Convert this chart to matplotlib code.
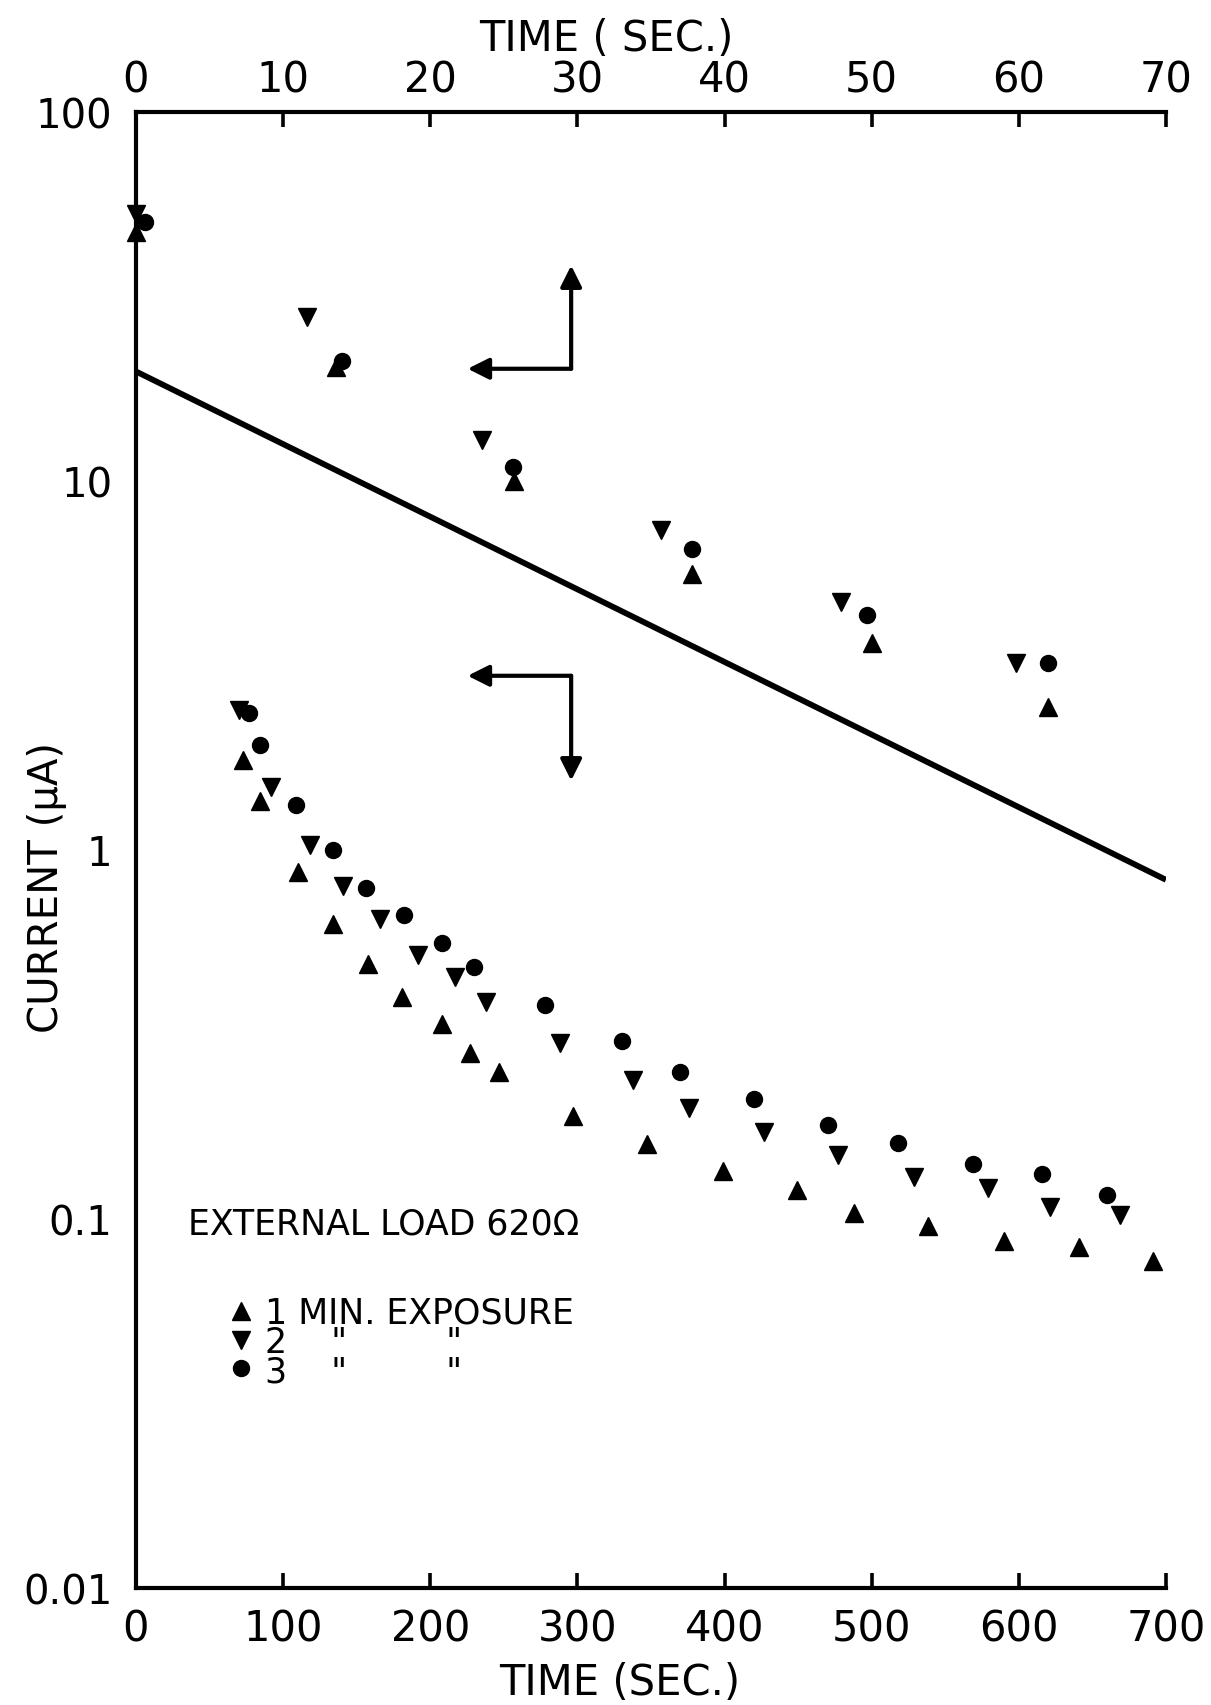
import numpy as np
import matplotlib
matplotlib.use("Agg")
import matplotlib.pyplot as plt
from matplotlib.ticker import NullLocator

plt.rcParams["font.family"] = ["DejaVu Sans"]

# lower set: bottom time axis (0-700 s)
T_1MIN = [73, 84, 110, 134, 158, 181, 208, 227, 247, 297, 347, 399, 449, 488, 538, 590, 641, 691]
I_1MIN = [1.75, 1.36, 0.87, 0.63, 0.49, 0.40, 0.338, 0.282, 0.25, 0.19, 0.16, 0.135, 0.12,
          0.104, 0.096, 0.087, 0.084, 0.077]
T_2MIN = [70, 92, 118, 141, 166, 192, 217, 238, 288, 338, 376, 427, 477, 529, 579, 621, 669]
I_2MIN = [2.39, 1.48, 1.03, 0.80, 0.65, 0.52, 0.452, 0.388, 0.30, 0.238, 0.20, 0.172, 0.149,
          0.130, 0.121, 0.108, 0.1025]
T_3MIN = [77, 84, 109, 134, 156, 182, 208, 230, 278, 330, 370, 420, 470, 518, 569, 616, 660]
I_3MIN = [2.35, 1.92, 1.32, 1.0, 0.79, 0.667, 0.558, 0.481, 0.38, 0.304, 0.25, 0.211, 0.18,
          0.161, 0.141, 0.132, 0.116]

# upper set: top time axis (0-70 s)
TT_1MIN = [0, 13.6, 25.7, 37.8, 50.0, 62.0]
II_1MIN = [47.4, 20.3, 10.0, 5.6, 3.64, 2.44]
TT_2MIN = [0, 11.6, 23.5, 35.7, 47.9, 59.8]
II_2MIN = [52.8, 27.8, 12.9, 7.35, 4.7, 3.21]
TT_3MIN = [0.6, 14.0, 25.6, 37.8, 49.7, 62.0]
II_3MIN = [50.4, 21.2, 10.9, 6.53, 4.33, 3.21]

# straight reference line
LINE_T = [0, 700]
LINE_I = [19.8, 0.83]

Y_TICKS = [0.01, 0.1, 1, 10, 100]
Y_LABELS = ["0.01", "0.1", "1", "10", "100"]
X_TICKS = [0, 100, 200, 300, 400, 500, 600, 700]
X2_TICKS = [0, 10, 20, 30, 40, 50, 60, 70]

LEGEND_ROWS = "1 MIN. EXPOSURE\n2    \"         \"\n3    \"         \""

fig = plt.figure(figsize=(12.11, 17.06), dpi=100)
fig.patch.set_facecolor("white")
ax = fig.add_axes([0.1123, 0.0686, 0.8505, 0.8652])
ax.set_yscale("log")
ax.set_xlim(0, 700)
ax.set_ylim(0.01, 100)

ax2 = ax.twiny()
ax2.set_xlim(0, 70)

mk = dict(color="black", linestyle="none", clip_on=False, zorder=3)

h1, = ax.plot(T_1MIN, I_1MIN, marker="^", markersize=13, **mk)
h2, = ax.plot(T_2MIN, I_2MIN, marker="v", markersize=13, **mk)
h3, = ax.plot(T_3MIN, I_3MIN, marker="o", markersize=11.5, **mk)

ax2.plot(TT_1MIN, II_1MIN, marker="^", markersize=13, **mk)
ax2.plot(TT_2MIN, II_2MIN, marker="v", markersize=13, **mk)
ax2.plot(TT_3MIN, II_3MIN, marker="o", markersize=11.5, **mk)

ax.plot(LINE_T, LINE_I, color="black", lw=4.2, solid_capstyle="butt", zorder=2)

# arrows telling which time axis belongs to which set
arrow = dict(arrowstyle="-|>", color="black", lw=3, mutation_scale=32, shrinkA=0, shrinkB=0)
ax.annotate("", xy=(0.322, 0.826), xytext=(0.4225, 0.826), xycoords="axes fraction", arrowprops=arrow)
ax.annotate("", xy=(0.4225, 0.896), xytext=(0.4225, 0.826), xycoords="axes fraction", arrowprops=arrow)
ax.annotate("", xy=(0.322, 0.618), xytext=(0.4225, 0.618), xycoords="axes fraction", arrowprops=arrow)
ax.annotate("", xy=(0.4225, 0.547), xytext=(0.4225, 0.618), xycoords="axes fraction", arrowprops=arrow)

# axes styling
ax.set_yticks(Y_TICKS)
ax.set_yticklabels(Y_LABELS)
ax.yaxis.set_minor_locator(NullLocator())
ax.tick_params(axis="y", length=0, pad=17, labelsize=29)
ax.set_xticks(X_TICKS)
ax.tick_params(axis="x", direction="in", length=11, width=2.6, pad=14, labelsize=30)
ax2.set_xticks(X2_TICKS)
ax2.tick_params(axis="x", direction="in", length=11, width=2.6, pad=8, labelsize=30)

for s in ["right", "top"]:
    ax.spines[s].set_visible(False)
for s in ["right", "left", "bottom"]:
    ax2.spines[s].set_visible(False)
ax.spines["left"].set_linewidth(3)
ax.spines["bottom"].set_linewidth(3)
ax2.spines["top"].set_linewidth(3)

ax.text(0.470, -0.0637, "TIME (SEC.)", transform=ax.transAxes, ha="center", va="center", fontsize=30)
ax.text(0.457, 1.050, "TIME ( SEC.)", transform=ax.transAxes, ha="center", va="center", fontsize=30)
ax.text(-0.0864, 0.475, "CURRENT (\u03bcA)", transform=ax.transAxes, ha="center", va="center",
        rotation=90, fontsize=29)

ax.text(0.0505, 0.2466, "EXTERNAL LOAD 620\u03a9", transform=ax.transAxes, ha="left", va="center",
        fontsize=25)

# legend: markers from the legend, row text as one block
ax.legend([h1, h2, h3], ["", "", ""], loc="upper left", bbox_to_anchor=(0.0923, 0.1943),
          frameon=False, fontsize=18, handlelength=0.8, handletextpad=0, labelspacing=0.18,
          borderpad=0, borderaxespad=0)
ax.text(0.1252, 0.1402, LEGEND_ROWS, transform=ax.transAxes, ha="left", va="baseline",
        fontsize=25, linespacing=0.82)

fig.savefig("out.png", dpi=100)
